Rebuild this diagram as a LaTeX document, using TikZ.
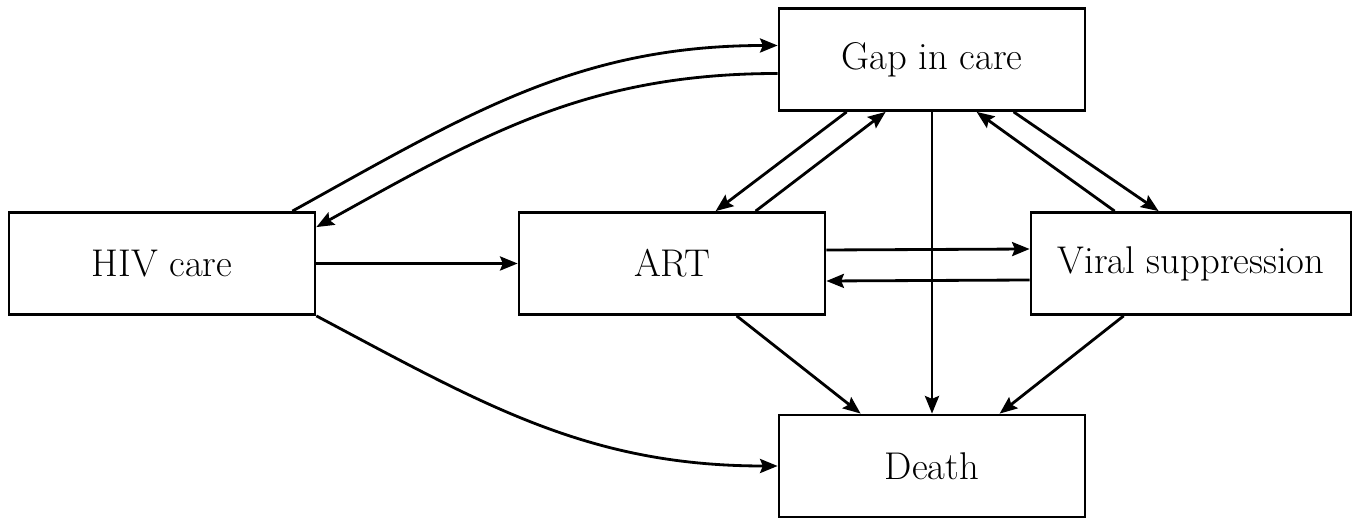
\documentclass[tikz,border=0pt]{standalone}
\usetikzlibrary{arrows.meta,calc}
\begin{document}
\begin{tikzpicture}[x=0.02cm,y=-0.02cm,
  box/.style={draw,line width=1.6pt,minimum width=6.12cm,minimum height=2.04cm,inner sep=0pt,font=\fontsize{22}{26}\selectfont},
  arr/.style={line width=1.6pt,-{Stealth[length=10pt,width=8pt,inset=1.6pt]}},
  ln/.style={line width=1.6pt}]
\useasboundingbox (0,0) rectangle (1359,519);
\node[box] (hiv) at (162,263.5) {HIV care};
\node[box] (art) at (672,263.5) {ART};
\node[box,minimum width=6.4cm] (vs) at (1191,263.5) {Viral suppression};
\node[box] (gap) at (932,59.5) {Gap in care};
\node[box] (death) at (932,466) {Death};
% HIV care
\draw[arr] (hiv.east) -- (art.west);
\draw[arr] ($(hiv.north east)+(-24,0)$) to[out=29,in=180] ($(gap.west)+(0,-14)$);
\draw[arr] ($(gap.west)+(0,14)$) to[out=180,in=29] ($(hiv.north east)+(0,16)$);
\draw[arr] (hiv.south east) to[out=-28,in=180] (death.west);
% Gap in care <-> ART
\draw[arr] ($(gap.south west)+(69,0)$) -- ($(art.north west)+(198,0)$);
\draw[arr] ($(art.north west)+(238,0)$) -- ($(gap.south west)+(108,0)$);
% Gap in care <-> Viral suppression
\draw[arr] ($(gap.south west)+(236,0)$) -- ($(vs.north west)+(129,0)$);
\draw[arr] ($(vs.north west)+(85,0)$) -- ($(gap.south west)+(199,0)$);
% Gap -> Death
\draw[arr] (gap.south) -- (death.north);
% ART <-> Viral suppression
\draw[arr] ($(art.east)+(0,-13.5)$) -- ($(vs.west)+(0,-14.5)$);
\draw[arr] ($(vs.west)+(0,16.5)$) -- ($(art.east)+(0,17.5)$);
% to Death
\draw[arr] ($(art.south west)+(219,0)$) -- ($(death.north west)+(83,0)$);
\draw[arr] ($(vs.south west)+(94,0)$) -- ($(death.north west)+(222,0)$);
\end{tikzpicture}
\end{document}
